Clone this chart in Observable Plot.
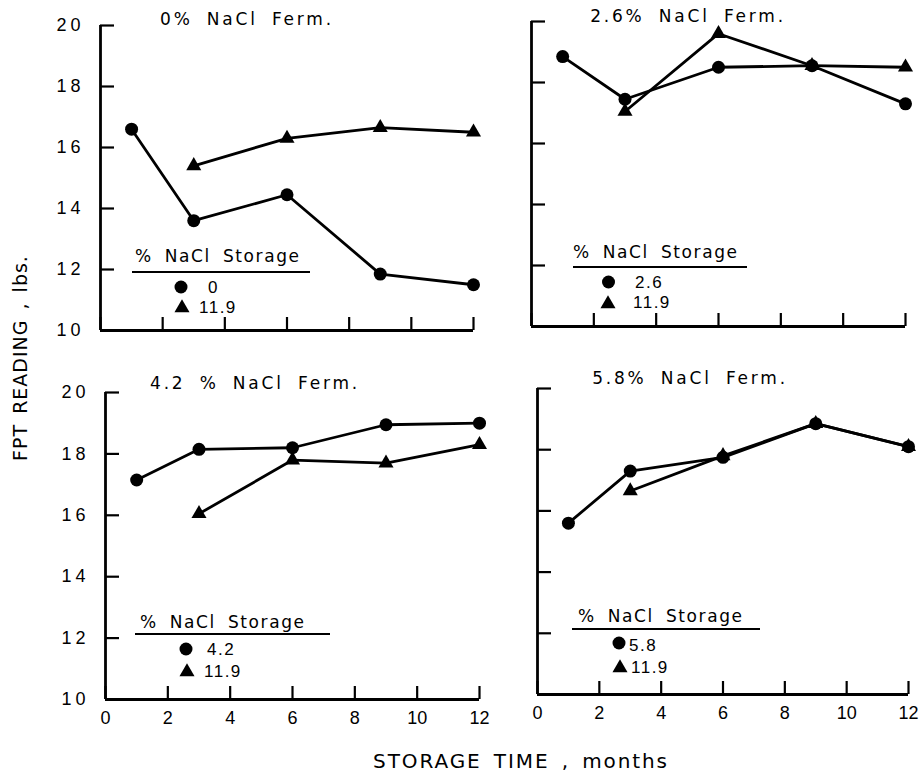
<!DOCTYPE html>
<html><head><meta charset="utf-8">
<script src="https://cdn.jsdelivr.net/npm/d3@7"></script>
<script src="https://cdn.jsdelivr.net/npm/@observablehq/plot@0.6"></script>
<style>
body{margin:0;background:#fff;}
#chart{position:relative;width:919px;height:778px;font-family:"DejaVu Sans",sans-serif;color:#000;overflow:hidden;}
#chart svg{position:absolute;overflow:visible;background:none;}
#chart svg g[aria-label="y-axis tick label"] text{letter-spacing:4px;}
.t{position:absolute;white-space:nowrap;transform:translate(-50%,-50%);line-height:1;}
.ttl{font-size:17px;letter-spacing:2.8px;word-spacing:6px;}
</style></head><body><div id="chart"></div>
<script>
// ---- data ----
const circleMonths = [1, 3, 6, 9, 12];
const triangleMonths = [3, 6, 9, 12];
const fermTitles = ["0% NaCl Ferm.", "2.6% NaCl Ferm.", "4.2 % NaCl Ferm.", "5.8% NaCl Ferm."];
const storageCircleLabels = ["0", "2.6", "4.2", "5.8"];
const storageTriangleLabel = "11.9";
const legendHeader = "% NaCl Storage";
const ferm0Circle = [16.6, 13.6, 14.45, 11.85, 11.5];
const ferm0Triangle = [15.4, 16.3, 16.65, 16.5];
const ferm26Circle = [18.85, 17.45, 18.5, 18.55, 17.3];
const ferm26Triangle = [17.05, 19.6, 18.55, 18.5];
const ferm42Circle = [17.15, 18.15, 18.2, 18.95, 19.0];
const ferm42Triangle = [16.05, 17.8, 17.7, 18.3];
const ferm58Circle = [15.6, 17.3, 17.75, 18.85, 18.1];
const ferm58Triangle = [16.65, 17.8, 18.85, 18.1];
const xTicks = [0, 2, 4, 6, 8, 10, 12];
const yTicks = [10, 12, 14, 16, 18, 20];
const xTitle = "STORAGE TIME , months";
const yTitle = "FPT READING , lbs.";

// ---- layout ----
const circleSeries = [ferm0Circle, ferm26Circle, ferm42Circle, ferm58Circle];
const triangleSeries = [ferm0Triangle, ferm26Triangle, ferm42Triangle, ferm58Triangle];
const layout = [
  {x0:100, x1:473, y0:25,  y1:330, yLab:true,  xLab:false, title:[247,19],
   lg:{hx:135, hy:262, u1:132, u2:310, uy:272, cx:181, cy:287, tx:182, ty:308, clx:208, cb:293, tlx:199, tb:313}},
  {x0:531, x1:905, y0:21,  y1:326, yLab:false, xLab:false, title:[688,16],
   lg:{hx:573, hy:258, u1:573, u2:747, uy:267, cx:608.5, cy:282, tx:608, ty:304, clx:635, cb:288, tlx:633, tb:308}},
  {x0:105, x1:479, y0:392, y1:699, yLab:true,  xLab:true,  title:[255,383],
   lg:{hx:140, hy:628, u1:135, u2:330, uy:634, cx:186, cy:649, tx:187, ty:672, clx:207, cb:655, tlx:204, tb:677}},
  {x0:537, x1:908, y0:388, y1:694, yLab:false, xLab:true,  title:[690,378],
   lg:{hx:578, hy:622, u1:572, u2:760, uy:629, cx:619, cy:643, tx:620, ty:668, clx:629, cb:651, tlx:631, tb:673}}
];

const chart = document.getElementById("chart");
const CR = 6.5, TR = 5.6, LW = 2.8;
const numFont = "Liberation Sans";

layout.forEach((L, p) => {
  const circ = circleMonths.map((m, i) => ({month: m, fpt: circleSeries[p][i]}));
  const tri = triangleMonths.map((m, i) => ({month: m, fpt: triangleSeries[p][i]}));
  const mL = 60, mR = 10, mT = 5, mB = 40;
  const svg = Plot.plot({
    width: (L.x1 - L.x0) + mL + mR,
    height: (L.y1 - L.y0) + mT + mB,
    marginLeft: mL, marginRight: mR, marginTop: mT, marginBottom: mB,
    style: {fontFamily: numFont, fontSize: "18px", background: "transparent", color: "#000"},
    x: {domain: [0, 12], axis: null},
    y: {domain: [10, 20], axis: null},
    marks: [
      Plot.ruleX([0], {stroke: "#000", strokeWidth: LW}),
      Plot.ruleY([10], {stroke: "#000", strokeWidth: LW}),
      Plot.axisY(yTicks, {anchor: "left", tickSize: -14, tickPadding: 30, strokeWidth: 2.2,
        tickFormat: L.yLab ? (d => String(d)) : (() => ""), label: null, fontSize: 18, fill: "#000"}),
      Plot.axisX(xTicks, {anchor: "bottom", tickSize: -13, tickPadding: 25, strokeWidth: 2.2,
        tickFormat: L.xLab ? (d => String(d)) : (() => ""), label: null, fontSize: 18, fill: "#000"}),
      Plot.line(circ, {x: "month", y: "fpt", stroke: "#000", strokeWidth: LW}),
      Plot.line(tri, {x: "month", y: "fpt", stroke: "#000", strokeWidth: LW}),
      Plot.dot(circ, {x: "month", y: "fpt", symbol: "circle", r: CR, fill: "#000"}),
      Plot.dot(tri, {x: "month", y: "fpt", symbol: "triangle", r: TR, fill: "#000"})
    ]
  });
  svg.style.left = (L.x0 - mL) + "px";
  svg.style.top = (L.y0 - mT) + "px";
  chart.appendChild(svg);

  const t = document.createElement("div");
  t.className = "t ttl";
  t.textContent = fermTitles[p];
  t.style.left = L.title[0] + "px";
  t.style.top = L.title[1] + "px";
  chart.appendChild(t);
});

// legends overlay
const ov = d3.select(chart).append("svg")
  .attr("width", 919).attr("height", 778)
  .style("left", "0px").style("top", "0px")
  .style("font-family", "DejaVu Sans");
layout.forEach((L, p) => {
  const g = L.lg;
  const G = ov.append("g");
  G.append("text").attr("x", g.hx).attr("y", g.hy).attr("font-size", 17)
    .style("letter-spacing", "1.6px").style("word-spacing", "5px").text(legendHeader);
  G.append("line").attr("x1", g.u1).attr("x2", g.u2).attr("y1", g.uy).attr("y2", g.uy)
    .attr("stroke", "#000").attr("stroke-width", 2);
  G.append("path").attr("transform", `translate(${g.cx},${g.cy})`)
    .attr("d", d3.symbol(d3.symbolCircle, CR * CR * Math.PI)());
  G.append("path").attr("transform", `translate(${g.tx},${g.ty})`)
    .attr("d", d3.symbol(d3.symbolTriangle, TR * TR * Math.PI)());
  G.append("text").attr("x", g.clx).attr("y", g.cb).attr("font-size", 17)
    .style("font-family", numFont).style("letter-spacing", "1.5px").text(storageCircleLabels[p]);
  G.append("text").attr("x", g.tlx).attr("y", g.tb).attr("font-size", 17)
    .style("font-family", numFont).style("letter-spacing", "1.5px").text(storageTriangleLabel);
});

const xt = document.createElement("div");
xt.className = "t";
xt.style.cssText += "left:521px;top:761px;font-size:20px;letter-spacing:1.9px;word-spacing:4px;";
xt.textContent = xTitle;
chart.appendChild(xt);

const yt = document.createElement("div");
yt.className = "t";
yt.style.cssText += "left:20px;top:358px;font-size:19px;letter-spacing:1px;word-spacing:3px;transform:translate(-50%,-50%) rotate(-90deg);";
yt.textContent = yTitle;
chart.appendChild(yt);
</script>
</body></html>
